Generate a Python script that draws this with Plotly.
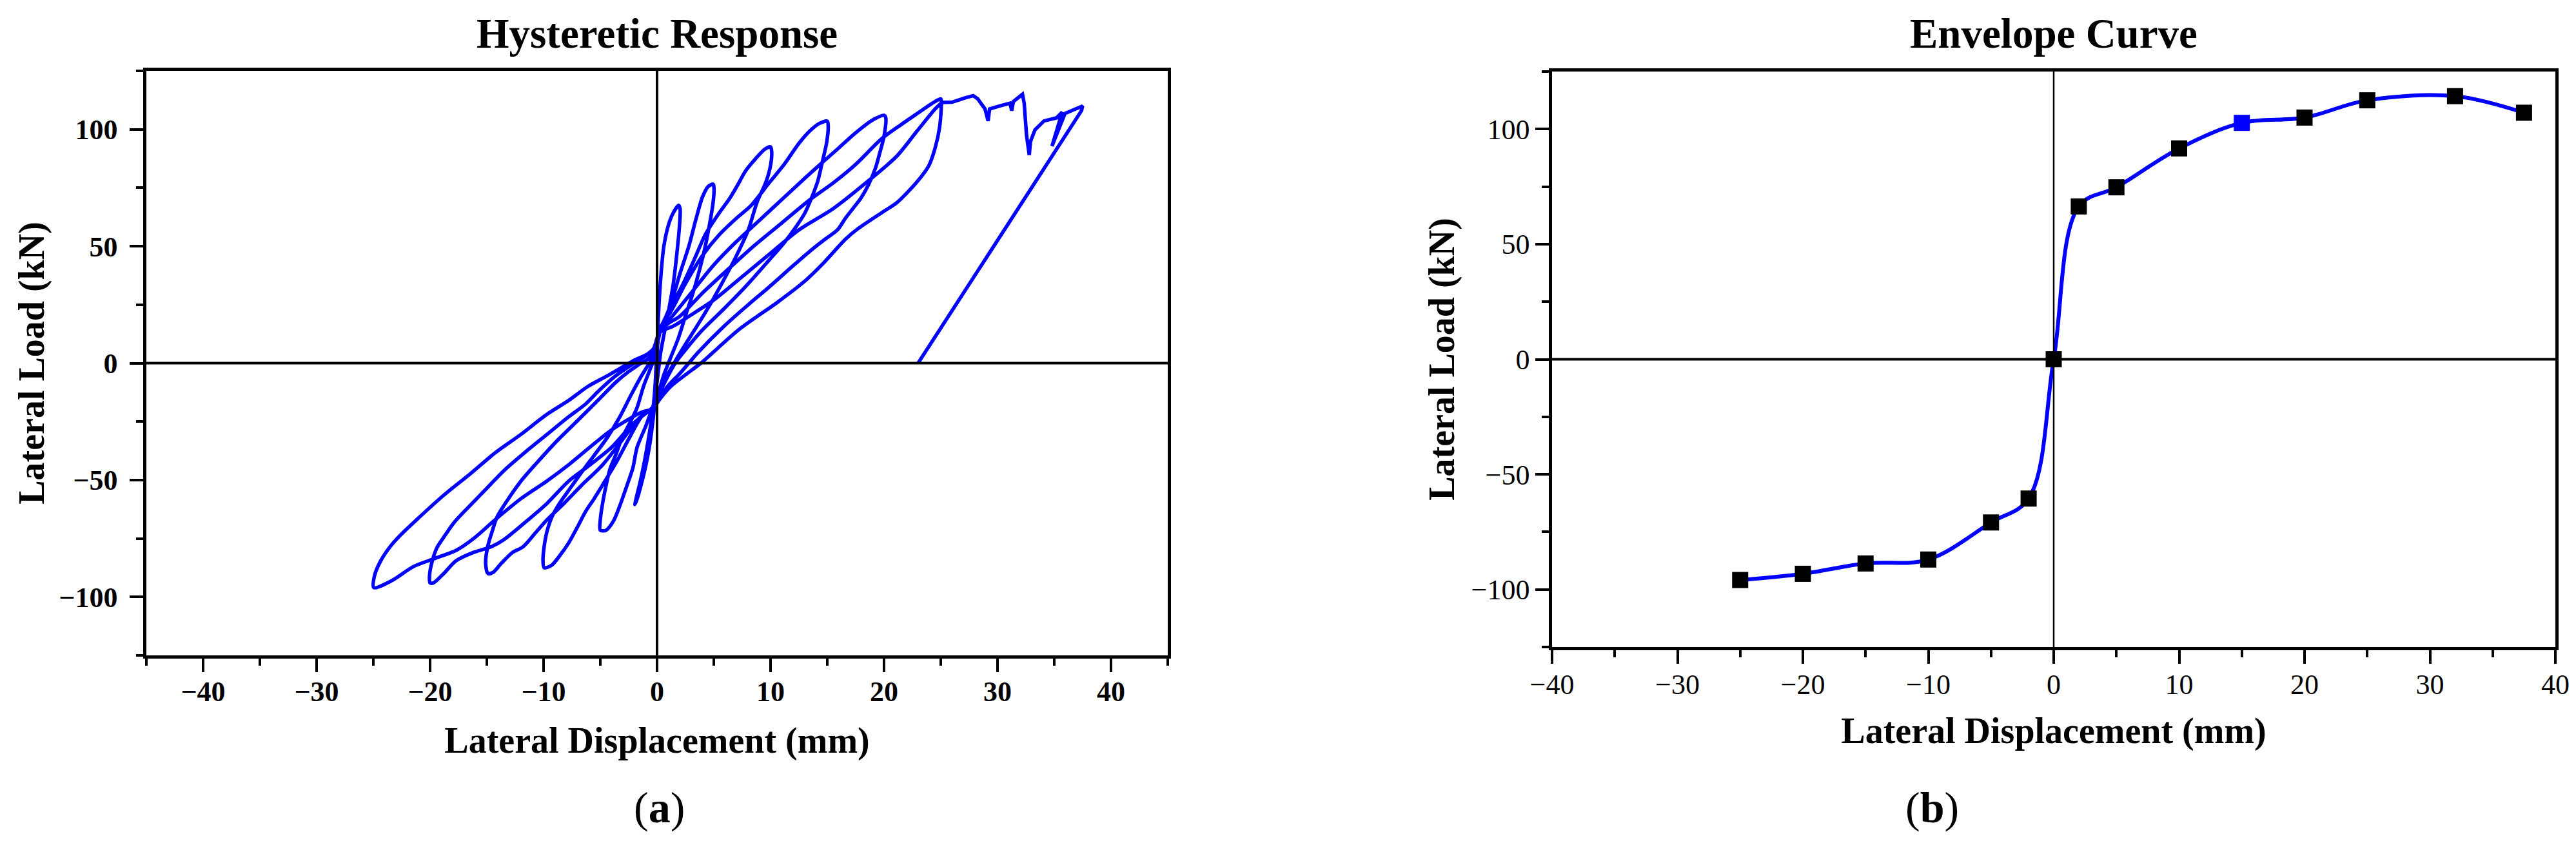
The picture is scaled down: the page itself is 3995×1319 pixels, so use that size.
import plotly.graph_objects as go

# hysteresis loops, one list pair per displacement level (mm, kN)
c2_x = [0, 0.1, 0.35, 0.6, 1.0, 1.4, 1.9, 2.03, 1.98, 1.77, 1.46, 1.0, 0.6, 0.3, 0.1, -0.1, -0.35, -0.65,
        -1.0, -1.4, -1.75, -1.95, -1.85, -1.5, -1.15, -0.85, -0.55, -0.3, -0.15, -0.05]
c2_y = [0, 18, 38, 50, 59, 64, 67.5, 66, 59, 48, 35, 22, 12, 4, -4, -12, -24, -35,
        -44, -52, -58, -60.5, -58, -51, -43, -35, -26, -17, -8, 2]

c5_x = [0.05, 0.3, 1.2, 2.0, 2.8, 3.45, 4.0, 4.5, 4.95, 5.02, 4.92, 4.65, 4.25, 3.75, 3.1, 2.55, 1.9, 1.25,
        0.6, 0.15, -0.4, -1.0, -1.76, -2.14, -2.7, -3.28, -3.84, -4.5, -5.0, -4.98, -4.8, -4.5, -4.13,
        -3.66, -3.09, -2.5, -1.76, -1.2, -0.6, -0.25, -0.05]
c5_y = [8, 14, 25, 38, 50, 62, 71, 75.5, 76.5, 74, 68, 60, 50, 40, 29, 21, 11, 3,
        -5, -12, -19, -27, -36, -45, -53, -61, -67.5, -71.5, -71.5, -66, -60, -52.5, -45,
        -39.5, -32, -26.5, -19, -10, -2.5, 2, 8]

c10_x = [0.1, 0.5, 1.0, 2.3, 3.34, 4.25, 5.3, 6.47, 7.2, 7.77, 8.69, 9.5, 10.0, 10.1, 10.05, 9.8, 9.47, 8.82,
         8.04, 7.0, 6.2, 4.9, 3.6, 2.3, 1.5, 0.7, 0.2, -0.4, -1.38, -2.5, -3.66, -4.6, -5.55, -6.3, -7.06,
         -7.8, -8.6, -9.3, -9.95, -10.05, -9.95, -9.7, -9.24, -8.6, -7.8, -6.7, -5.55, -4.41, -3.28,
         -2.33, -1.38, -0.81, -0.3, -0.08]
c10_y = [12, 17, 22, 34, 45, 55, 63, 71, 77, 82, 87.5, 91.5, 92.5, 90.5, 86, 80.5, 76, 69,
         57, 46, 38.5, 27, 16.5, 6.5, 0, -7, -13, -19, -23, -32.5, -43, -50.5, -58, -63.5, -70.5,
         -77, -82.5, -86.5, -87.5, -84.5, -78.5, -72, -65.5, -60, -54.5, -47, -39.5, -32, -23,
         -14, -5.5, -1, 3, 9]

c15_x = [0.15, 0.6, 1.2, 2.5, 4.0, 5.5, 7.0, 8.3, 9.86, 11.2, 12.5, 13.5, 14.3, 15.0, 15.08, 14.95, 14.56,
         14.17, 13.6, 13.0, 12.2, 11.2, 9.86, 8.04, 5.95, 3.86, 2.3, 1.6, 0.8, 0.2, -0.4, -1.57, -3.09,
         -4.8, -6.7, -8.2, -9.7, -10.7, -11.8, -12.75, -13.7, -14.45, -14.9, -15.1, -14.95, -14.5,
         -14.07, -13.1, -12.0, -10.66, -8.77, -6.88, -5.17, -3.66, -2.52, -1.57, -0.63, -0.1]
c15_y = [13, 18, 22, 34, 46, 55, 62, 67.5, 77, 85, 94, 99.5, 102.5, 103.5, 101.5, 94.5, 86,
         78, 70.5, 64, 58, 51.5, 44, 34, 23.5, 13.5, 4.5, 0, -7, -13, -19, -23.5, -33,
         -43.5, -52.5, -60, -67, -72.5, -78.5, -81, -85.5, -89.5, -90, -86, -79, -71.5,
         -65.5, -58, -50.5, -43, -33, -24, -15.7, -8.3, -3.7, -0.5, 2.5, 9]

c20_x = [0.2, 0.8, 1.5, 3.0, 5.0, 7.0, 9.0, 11.0, 13.0, 14.6, 16.0, 17.5, 19.0, 20.0, 20.15, 20.0, 19.6,
         19.25, 18.6, 17.95, 17.4, 16.6, 15.9, 14.8, 13.5, 11.95, 9.86, 8.04, 5.95, 3.6, 2.8, 1.9, 1.0,
         0.3, -0.4, -2.14, -4.0, -5.9, -7.8, -9.7, -11.6, -13.5, -14.6, -16.2, -17.7, -18.8, -19.7,
         -20.0, -20.05, -19.8, -19.4, -18.8, -17.86, -16.5, -15.0, -13.5, -11.6, -9.7, -7.8, -6.3,
         -5.17, -3.66, -2.33, -1.0, -0.25, -0.05]
c20_y = [13, 17, 21, 30, 42, 52, 61, 70, 79, 86, 92, 98.5, 104, 106, 105, 97, 89.5,
         83.5, 76, 70.5, 67, 62, 57, 53, 48, 41.5, 32.5, 25, 16, 4.5, 0, -5, -9.5,
         -14, -19, -26, -36, -43.5, -50.5, -60, -68, -75.5, -78.5, -81, -84.5, -90, -94,
         -94, -91, -84.5, -79, -74.5, -68, -61, -53.5, -46, -38, -30.5, -23, -17.5,
         -12, -5.5, -1, 3, 6, 10]

c25_x = [0.2, 1.0, 2.0, 4.0, 6.0, 8.5, 11.0, 13.5, 15.5, 17.5, 19.8, 21.5, 23.0, 24.2, 25.0, 25.05, 24.9,
         24.5, 23.95, 22.9, 21.1, 20.0, 17.7, 16.6, 14.6, 13.0, 10.6, 7.25, 3.86, 2.5, 1.2, 0.3, -0.4,
         -1.38, -2.33, -4.0, -5.93, -7.8, -9.73, -12.0, -14.27, -16.16, -17.67, -19.56, -21.46, -23.36,
         -24.96, -24.9, -24.4, -23.6, -22.6, -21.08, -18.8, -16.5, -14.3, -12.0, -9.73, -7.8, -6.1,
         -4.41, -3.1, -1.95, -0.81, -0.25, -0.05]
c25_y = [13, 17, 20, 30, 39, 50, 60, 70, 77, 85, 96, 102, 107, 111, 113, 111, 101,
         92, 84.5, 77.5, 68.5, 65, 57.5, 53, 42.5, 35, 26, 14.5, 0, -5, -10, -15, -19.5,
         -21, -23.5, -28.5, -36, -43.5, -50.5, -58, -67, -75, -80, -83.5, -87, -93,
         -96, -91, -85, -79, -73.5, -66.5, -56.5, -47.5, -38.5, -30.5, -22, -16, -10,
         -5.5, -1.8, 1.4, 4, 6.5, 9]

# final push to failure and unloading
reload_x = [0.2, 1.5, 2.8, 5.0, 7.5, 10.0, 12.5, 15.5, 18.2, 21.1, 22.9, 24.5, 25.1]
reload_y = [13, 16, 20, 27, 37, 47, 57, 66, 76.3, 88.4, 99.2, 108.7, 111.5]
push_x = [25.1, 26.0, 27.1, 27.86, 28.25, 28.9, 29.17, 29.3, 30.2, 31.1, 31.25, 31.4, 32.2, 32.35, 32.56,
          32.8, 32.9, 33.3, 34.1, 35.2, 35.7, 34.8, 35.95, 37.5, 37.4, 23.0]
push_y = [111.5, 111.6, 113.4, 114.4, 113.1, 108.7, 103.6, 108.7, 110, 111.2, 108, 111.9, 115, 111.2, 97.3,
          89, 94.7, 99.8, 103.6, 104.9, 107.4, 92.8, 106.8, 110, 108, 0]

# envelope curve
env_x = [-25, -20, -15, -10, -5, -2, 0, 2, 5, 10, 15, 20, 25, 32, 37.5]
env_y = [-95.9, -93.2, -88.7, -87.0, -70.9, -60.5, 0, 66.4, 74.7, 91.6, 102.7, 105.0, 112.5, 114.3, 107.1]
env_marker_col = ["black"] * 10 + ["blue"] + ["black"] * 4

W, H = 3995, 1319
FONT = "Liberation Serif, Times New Roman, serif"
BLUE = "#0000ff"

hx, hy = [], []
for xs, ys in [(c2_x, c2_y), (c5_x, c5_y), (c10_x, c10_y), (c15_x, c15_y),
               (c20_x, c20_y), (c25_x, c25_y), (reload_x, reload_y)]:
    hx += xs
    hy += ys

fig = go.Figure()
fig.add_trace(go.Scatter(x=hx, y=hy, mode="lines", line=dict(color=BLUE, width=5.5, shape="spline", smoothing=0.8),
                         showlegend=False, xaxis="x", yaxis="y"))
fig.add_trace(go.Scatter(x=push_x, y=push_y, mode="lines", line=dict(color=BLUE, width=5.5),
                         showlegend=False, xaxis="x", yaxis="y"))
fig.add_trace(go.Scatter(x=env_x, y=env_y, mode="lines+markers",
                         line=dict(color=BLUE, width=6, shape="spline", smoothing=1.0),
                         marker=dict(symbol="square", size=25, color=env_marker_col),
                         showlegend=False, xaxis="x2", yaxis="y2"))


def ax(dom, rng, dtick, minor, bold, anchor, standoff=0):
    return dict(
        domain=dom, range=rng, dtick=dtick, tick0=0, anchor=anchor, automargin=False,
        showline=True, mirror=True, linecolor="black", linewidth=4.5,
        ticks="outside", ticklen=21, tickwidth=4, tickcolor="black", ticklabelstandoff=standoff,
        minor=dict(dtick=minor, ticks="outside", ticklen=11, tickwidth=4, tickcolor="black"),
        showgrid=False, zeroline=False,
        tickfont=dict(family=FONT, size=44, color="black", weight="bold" if bold else "normal"),
    )


L_X = [219 / W, 1803 / W]
L_Y = [1 - 1009 / H, 1 - 102 / H]
R_X = [2399 / W, 3955 / W]
R_Y = [1 - 996 / H, 1 - 103 / H]

title_font = dict(family=FONT, size=56, color="black", weight="bold")

fig.update_layout(
    width=W, height=H,
    paper_bgcolor="white", plot_bgcolor="white",
    margin=dict(l=0, r=0, t=0, b=0),
    xaxis=dict(ax(L_X, [-45, 45], 10, 5, True, "y", -8),
               title=dict(text="Lateral Displacement (mm)", font=title_font, standoff=34)),
    yaxis=dict(ax(L_Y, [-125, 125], 50, 25, True, "x", 10),
               title=dict(text="Lateral Load (kN)", font=title_font, standoff=6)),
    xaxis2=dict(ax(R_X, [-40, 40], 10, 5, False, "y2", -6),
                title=dict(text="Lateral Displacement (mm)", font=title_font, standoff=30)),
    yaxis2=dict(ax(R_Y, [-125, 125], 50, 25, False, "x2"),
                title=dict(text="Lateral Load (kN)", font=title_font, standoff=10)),
    shapes=[
        dict(type="line", xref="x domain", yref="y", x0=0, x1=1, y0=0, y1=0,
             line=dict(color="black", width=4), layer="above"),
        dict(type="line", xref="x", yref="y domain", x0=0, x1=0, y0=0, y1=1,
             line=dict(color="black", width=4), layer="above"),
        dict(type="line", xref="x2 domain", yref="y2", x0=0, x1=1, y0=0, y1=0,
             line=dict(color="black", width=4), layer="above"),
        dict(type="line", xref="x2", yref="y2 domain", x0=0, x1=0, y0=0, y1=1,
             line=dict(color="black", width=2.5), layer="above"),
    ],
    annotations=[
        dict(text="<b>Hysteretic Response</b>", x=sum(L_X) / 2, y=1 - 44 / H, xref="paper", yref="paper",
             showarrow=False, xanchor="center", yanchor="middle", font=dict(family=FONT, size=65, color="black")),
        dict(text="<b>Envelope Curve</b>", x=sum(R_X) / 2, y=1 - 44 / H, xref="paper", yref="paper",
             showarrow=False, xanchor="center", yanchor="middle", font=dict(family=FONT, size=65, color="black")),
        dict(text="(<b>a</b>)", x=1014 / W, y=1 - 1245 / H, xref="paper", yref="paper",
             showarrow=False, xanchor="center", yanchor="middle", font=dict(family=FONT, size=68, color="black")),
        dict(text="(<b>b</b>)", x=2988 / W, y=1 - 1245 / H, xref="paper", yref="paper",
             showarrow=False, xanchor="center", yanchor="middle", font=dict(family=FONT, size=68, color="black")),
    ],
)

fig.write_html("out.html")
